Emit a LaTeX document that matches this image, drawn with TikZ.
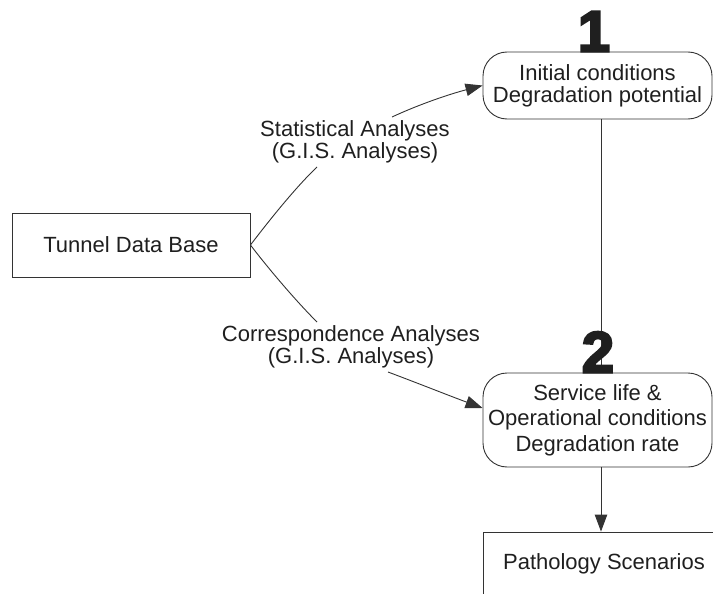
\documentclass[tikz,border=0pt]{standalone}
\usepackage{fontspec}
\setmainfont{Liberation Sans}
\newfontfamily\digitfont{Liberation Sans Bold}[FakeBold=4]
\usetikzlibrary{arrows.meta}
\begin{document}
\begin{tikzpicture}[x=1pt,y=-1pt,
  every node/.style={text=black!88},
  ink/.style={draw=black!80, line width=0.9pt},
  plainbox/.style={ink, rectangle, inner sep=0pt},
  stagebox/.style={ink, rectangle, rounded corners=24pt, inner sep=0pt,
    minimum width=229pt, align=center},
  flowlabel/.style={align=center, inner sep=0pt},
  stagenum/.style={anchor=south, inner sep=0pt,
    font=\digitfont\fontsize{58}{58}\selectfont},
  flow/.style={ink},
  flowarrow/.style={ink, -{Triangle[length=17pt,width=12.5pt]}},
  txt/.style={font=\fontsize{22}{22}\selectfont}
]
\useasboundingbox (0,0) rectangle (713,594);
\clip (0,0) rectangle (713,594);

% boxes
\node[plainbox, minimum width=238pt, minimum height=64pt, txt] (tdb) at (131,245) {Tunnel Data Base};
\node[stagebox, minimum height=67pt, font=\fontsize{22}{22}\selectfont] (s1) at (597.5,85.5)
  {Initial conditions\\Degradation potential};
\node[stagebox, minimum height=94pt, font=\fontsize{22}{25.5}\selectfont] (s2) at (597.5,420)
  {Service life \&\\Operational conditions\\Degradation rate};
\node[plainbox, minimum width=242pt, minimum height=64pt, txt] (ps) at (604,564) {Pathology Scenarios};

% analysis labels
\node[flowlabel, font=\fontsize{22}{19.5}\selectfont] (l1) at (355,142)
  {Statistical Analyses\\(G.I.S. Analyses)};
\node[flowlabel, font=\fontsize{22}{22}\selectfont] (l2) at (351,346.5)
  {Correspondence Analyses\\(G.I.S. Analyses)};

% vertical spine
\coordinate (spine) at (601,0);
\draw[flow] (s1.south -| spine) -- (s2.north -| spine);
\draw[flowarrow] (s2.south -| spine) -- (ps.north -| spine);

% stage numbers
\node[stagenum] (n1) at ([xshift=-3.5pt]s1.north) {1};
\node[stagenum] (n2) at ([xshift=0.5pt]s2.north) {2};

% upper branch
\coordinate (l1in) at (317,167);
\coordinate (l1out) at (392,117);
\draw[flow] (tdb.east) .. controls (268,222) and (295,188) .. (l1in);
\draw[flowarrow] (l1out) .. controls (420,104) and (450,94) .. (s1.west);

% lower branch
\coordinate (l2in) at (317,322);
\coordinate (l2out) at (388,372);
\coordinate (s2in) at ([yshift=12pt]s2.west);
\draw[flow] (tdb.east) .. controls (268,268) and (295,300) .. (l2in);
\draw[flowarrow] (l2out) .. controls (420,384) and (450,396) .. (s2in);
\end{tikzpicture}
\end{document}
